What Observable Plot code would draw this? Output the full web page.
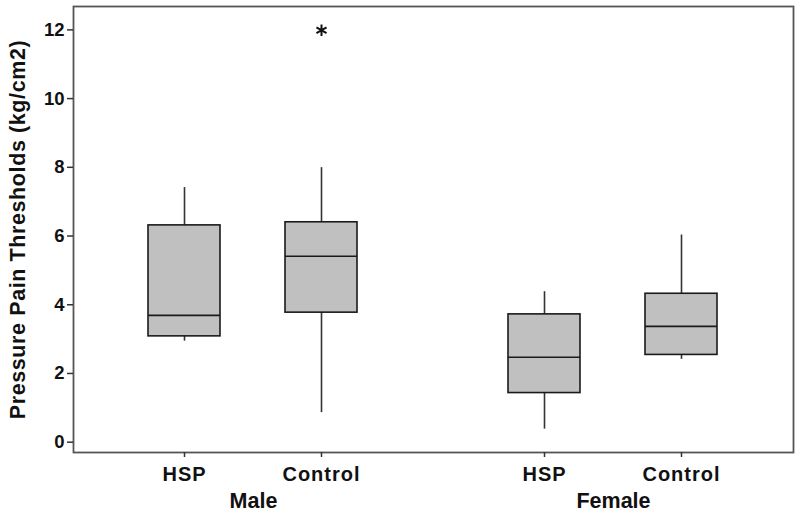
<!DOCTYPE html>
<html>
<head>
<meta charset="utf-8">
<script src="https://cdn.jsdelivr.net/npm/d3@7"></script>
<script src="https://cdn.jsdelivr.net/npm/@observablehq/plot@0.6"></script>
<style>
  html, body { margin: 0; padding: 0; background: #fff; }
  #chart svg { font-family: "Liberation Sans", Arial, Helvetica, sans-serif; display: block; }
  #chart g[aria-label="y-axis label"] text { letter-spacing: 0.6px; }
  #chart g[aria-label="x-axis tick label"] text { letter-spacing: 1px; }
</style>
</head>
<body>
<div id="chart"></div>
<script>
// Categories
const sexes  = ["Male", "Male", "Female", "Female"];
const groups = ["HSP", "Control", "HSP", "Control"];
const sexOrder = ["Male", "Female"];
const groupOrder = ["HSP", "Control"];

// Box statistics (kg/cm2)
const whiskerLow  = [2.94, 0.86, 0.38, 2.41];
const q1          = [3.08, 3.77, 1.43, 2.54];
const medians     = [3.69, 5.41, 2.47, 3.37];
const q3          = [6.31, 6.40, 3.72, 4.32];
const whiskerHigh = [7.41, 7.99, 4.38, 6.03];

// Outliers
const outlierSex   = ["Male"];
const outlierGroup = ["Control"];
const outlierValue = [11.99];

// Tick labels
const yTicks = [0, 2, 4, 6, 8, 10, 12];
const yLabel = "Pressure Pain Thresholds (kg/cm2)";

const boxes = sexes.map((s, i) => ({
  sex: s, group: groups[i],
  lo: whiskerLow[i], q1: q1[i], median: medians[i], q3: q3[i], hi: whiskerHigh[i]
}));
const outliers = outlierSex.map((s, i) => ({sex: s, group: outlierGroup[i], value: outlierValue[i]}));

const frameColor = "#555";

const chart = Plot.plot({
  width: 800,
  height: 517,
  marginTop: 6,
  marginLeft: 73,
  marginRight: 7,
  marginBottom: 65,
  fx: {domain: sexOrder, padding: 0, axis: null},
  x: {domain: groupOrder, paddingInner: 0.471, paddingOuter: 0.54, axis: null},
  y: {domain: [-0.3, 12.68], axis: null},
  marks: [
    // outer frame spanning both facets
    Plot.frame({facet: "super", stroke: frameColor, strokeWidth: 1.8}),
    // axes
    Plot.axisY({anchor: "left", ticks: yTicks, tickSize: 6, tickPadding: 3, fontSize: 18.5, fontWeight: "bold",
      stroke: "#333", strokeWidth: 1.5, color: "#111", label: null}),
    Plot.axisY({anchor: "left", ticks: [], tickSize: 0, label: yLabel, labelAnchor: "center", labelArrow: "none",
      labelOffset: 64, fontSize: 21.5, fontWeight: "bold", color: "#111"}),
    Plot.axisX({anchor: "bottom", tickSize: 5, tickPadding: 9, fontSize: 20, fontWeight: "bold",
      stroke: "#333", strokeWidth: 1.5, color: "#111", label: null}),
    Plot.axisFx({anchor: "bottom", tickSize: 0, tickPadding: 40, fontSize: 21.5, fontWeight: "bold",
      color: "#111", label: null}),
    // whiskers
    Plot.ruleX(boxes, {fx: "sex", x: "group", y1: "lo", y2: "hi", stroke: "#333", strokeWidth: 1.6}),
    // boxes
    Plot.barY(boxes, {fx: "sex", x: "group", y1: "q1", y2: "q3", fill: "#c0c0c0", stroke: "#1a1a1a", strokeWidth: 1.6}),
    // medians
    Plot.tickY(boxes, {fx: "sex", x: "group", y: "median", stroke: "#1a1a1a", strokeWidth: 1.6}),
    // outliers
    Plot.dot(outliers, {fx: "sex", x: "group", y: "value", symbol: "asterisk", r: 5.5, stroke: "#111", strokeWidth: 2})
  ]
});

document.getElementById("chart").appendChild(chart);
</script>
</body>
</html>
